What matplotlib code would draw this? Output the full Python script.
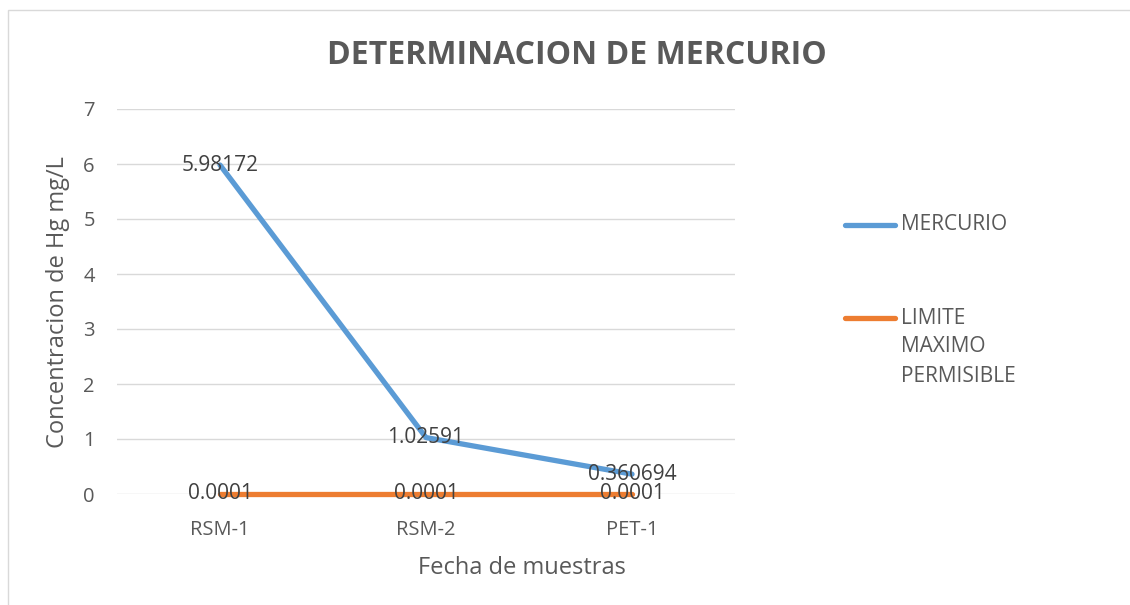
import matplotlib
matplotlib.use("Agg")
import matplotlib.pyplot as plt
from matplotlib.patches import Rectangle
from matplotlib.lines import Line2D

categories = ["RSM-1", "RSM-2", "PET-1"]
mercurio = [5.98172, 1.02591, 0.360694]
limite = [0.0001, 0.0001, 0.0001]
mercurio_labels = ["5.98172", "1.02591", "0.360694"]
limite_labels = ["0.0001", "0.0001", "0.0001"]
yticks = [0, 1, 2, 3, 4, 5, 6, 7]

FONT = ["Open Sans", "DejaVu Sans"]
plt.rcParams['font.family'] = FONT
TXT = "#595959"
LBL = "#404040"
BLUE = "#5B9BD5"
ORANGE = "#ED7D31"

W, H = 1130, 605
fig = plt.figure(figsize=(W / 100, H / 100), dpi=100)

def fx(px):
    return px / W

def fy(py):
    return 1 - py / H

# chart border
fig.patches.append(Rectangle((fx(8), fy(650)), fx(1200), fy(10) - fy(650),
                             transform=fig.transFigure, fill=False,
                             edgecolor="#D9D9D9", linewidth=1.0))

ax = fig.add_axes([fx(117), fy(494), fx(735) - fx(117), fy(109) - fy(494)])
x = list(range(len(categories)))
ax.set_xlim(-0.5, len(categories) - 0.5)
ax.set_ylim(0, 7)
ax.set_yticks(yticks)
ax.set_yticklabels([str(v) for v in yticks])
ax.set_xticks(x)
ax.set_xticklabels(categories)
ax.tick_params(axis='both', length=0, labelsize=14.5, colors=TXT)
ax.tick_params(axis='x', pad=19)
ax.tick_params(axis='y', pad=16)
for s in ax.spines.values():
    s.set_visible(False)
ax.grid(axis='y', color="#D9D9D9", linewidth=1.0)
ax.set_axisbelow(True)

ax.plot(x, mercurio, color=BLUE, linewidth=3.8, solid_capstyle='round',
        solid_joinstyle='round', zorder=3)
ax.plot(x, limite, color=ORANGE, linewidth=3.8, solid_capstyle='round',
        solid_joinstyle='round', zorder=3, clip_on=False)

for xi, v, t in zip(x, mercurio, mercurio_labels):
    ax.text(xi, v, t, ha='center', va='center', fontsize=15, color=LBL, zorder=5)
for xi, v, t in zip(x, limite, limite_labels):
    ax.text(xi, v, t, ha='center', va='center', fontsize=15, color=LBL, zorder=5)

# titles
fig.text(fx(577), fy(55), "DETERMINACION DE MERCURIO", ha='center', va='center',
         fontsize=23, fontweight='bold', color=TXT)
fig.text(fx(58), fy(302), "Concentracion de Hg mg/L", ha='center', va='center',
         rotation=90, fontsize=17, color=TXT)
fig.text(fx(522), fy(568), "Fecha de muestras", ha='center', va='center',
         fontsize=17, color=TXT)

# legend
for (y0, col) in [(225, BLUE), (318, ORANGE)]:
    fig.add_artist(Line2D([fx(845), fx(895)], [fy(y0), fy(y0)], color=col,
                          linewidth=3.8, solid_capstyle='round',
                          transform=fig.transFigure))
fig.text(fx(901), fy(225), "MERCURIO", ha='left', va='center', fontsize=15, color=TXT)
for i, t in enumerate(["LIMITE", "MAXIMO", "PERMISIBLE"]):
    fig.text(fx(901), fy(318 + 29 * i), t, ha='left', va='center', fontsize=15, color=TXT)

fig.savefig("out.png", dpi=100)
